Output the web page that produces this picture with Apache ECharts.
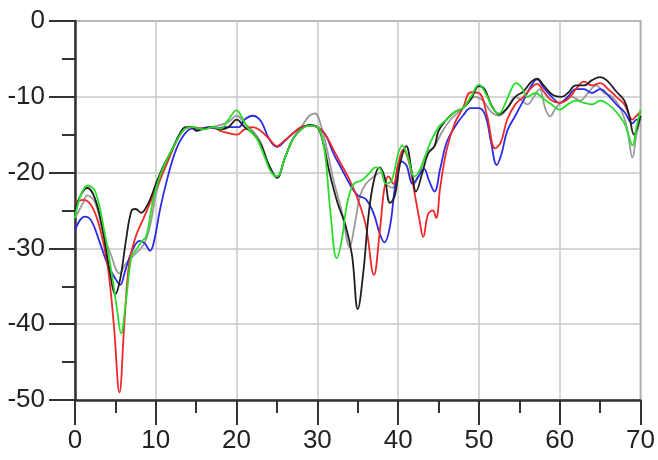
<!doctype html>
<html>
 <head>
  <meta charset="UTF-8">
  <script src="https://cdn.jsdelivr.net/npm/echarts@6/dist/echarts.min.js"></script>
  <title>chart</title>
  <style>html,body{margin:0;padding:0;background:#fff}</style>
 </head>
 <script type="text/javascript">
    // x ticks / y ticks
    var xTicks = [0, 10, 20, 30, 40, 50, 60, 70];
    var yTicks = [-50, -40, -30, -20, -10, 0];

    // curves, [x, dB]
    var grayData = [[0,-26],[1,-24],[1.5,-23],[2.5,-24],[3.5,-28],[4.5,-31],[5.5,-33.3],[6.3,-32],[7.3,-30.9],[8.5,-29.5],[9.3,-27],[10,-23],[11,-19.5],[12,-17],[13,-15],[14,-14],[15,-14.3],[17,-14],[19,-13.3],[20,-12.5],[21,-13.5],[22,-14.5],[23,-16],[24,-19],[25,-20.5],[26,-18],[27,-15.5],[28,-14],[29,-12.5],[29.7,-12.2],[30.5,-14],[31.2,-17],[32,-21],[33,-25],[34,-29.8],[34.6,-27],[35.3,-23],[36,-21.5],[37,-20.5],[37.8,-20],[38.5,-21.5],[39.3,-22],[40,-19],[40.7,-17],[41.4,-18.5],[42,-21.5],[42.7,-20],[43.5,-17.5],[44.5,-16.5],[45.5,-14.5],[46.5,-13],[47.5,-12],[48.5,-11],[49.5,-10],[50.5,-10.5],[51.5,-12],[52.5,-12.5],[53.5,-11.5],[54.5,-10],[55.3,-10.5],[56,-11],[56.8,-10],[57.5,-9],[58.2,-11.5],[58.8,-12.6],[59.5,-11.5],[60.5,-10.5],[61.5,-10],[62.5,-10.5],[63.5,-9.5],[64.5,-8.5],[65.5,-9.5],[66.5,-10],[67.5,-11.5],[68.3,-14],[69,-18],[69.5,-15],[70,-13]];
    var blueData = [[0,-27.6],[0.6,-26.3],[1.2,-25.8],[2,-26.3],[3,-29],[4,-32],[5,-34],[5.6,-34.8],[6.2,-33],[7,-30.5],[8,-29],[8.6,-29.3],[9.3,-30.3],[9.8,-29],[10.5,-25],[11.5,-20.5],[12.5,-17],[13.5,-15],[14.5,-14.2],[15.5,-14.2],[16.5,-14],[17.5,-14.2],[18.5,-14],[19.5,-14],[20.3,-14],[21,-13],[22,-12.5],[23,-13.2],[24,-15.5],[25,-16.6],[26,-15.8],[27,-14.8],[28,-14],[29,-13.8],[30,-14],[31,-15],[32,-17.5],[33,-19.5],[34,-21.5],[35,-23],[36,-23.5],[37,-25.5],[37.7,-28],[38.3,-29.2],[39,-27],[39.6,-22],[40.3,-18.5],[41,-19],[41.8,-21.5],[42.5,-20.5],[43.2,-19.5],[43.8,-21],[44.5,-22.5],[45.2,-19.5],[46,-16],[47,-14],[48,-12.5],[49,-11.5],[50,-11.5],[50.8,-12.5],[51.5,-16],[52.2,-19],[52.8,-17.5],[53.5,-14.5],[54.5,-12.5],[55.5,-10.5],[56.5,-8.5],[57.2,-7.7],[58,-8.8],[59,-10],[60,-10.8],[61,-10],[62,-9],[63,-9],[64,-9.5],[65,-9],[66,-9.8],[67,-11],[68,-12],[69,-13.5],[69.5,-13],[70,-13]];
    var redData = [[0,-24],[1,-23.6],[2,-24.3],[3,-27],[4,-32],[4.8,-40],[5.5,-49],[6.1,-40],[6.7,-32],[7.5,-28.5],[8.5,-26],[9.5,-23.5],[10.5,-21],[11.5,-18.5],[12.5,-16],[13.5,-14.3],[14.5,-14],[16,-14.2],[17,-14],[18,-14.5],[19,-14.8],[20,-15],[21,-14.3],[22,-14],[23,-14.5],[24,-15.5],[25,-16.5],[26,-15.7],[27,-14.8],[28,-14],[29,-13.8],[30,-14],[31,-15],[32,-17],[33,-19],[34,-21],[35,-23.5],[36,-27],[37,-33.5],[37.7,-28],[38.3,-22],[38.8,-20.5],[39.4,-21.5],[40,-19],[40.6,-17],[41.3,-18.5],[42,-22.5],[42.6,-26],[43.1,-28.5],[43.7,-25.5],[44.3,-25],[44.7,-26],[45.2,-22],[46,-17],[47,-13.5],[48,-11.5],[49,-9.4],[50,-9.5],[51,-12.5],[52,-16.8],[52.7,-16],[53.5,-13],[54.5,-11],[55.5,-10],[56.5,-8.8],[57.2,-8.3],[58,-9.3],[59,-10.5],[60,-10.8],[61,-10.3],[62,-9],[63,-8],[64,-8.5],[65,-8.2],[66,-9],[67,-10],[68,-11],[69,-13],[69.5,-12.5],[70,-12]];
    var blackData = [[0,-25],[0.7,-23],[1.5,-22],[2.5,-23.5],[3.5,-28],[4.3,-33],[5,-36],[5.6,-34],[6.3,-29],[7,-25],[7.5,-24.8],[8.2,-25.3],[8.8,-24.6],[9.5,-23],[10,-21.5],[11,-19],[12,-17],[13,-14.8],[13.7,-14],[14.5,-14],[15,-14.5],[16,-14.2],[17,-14],[18,-14.3],[19,-14],[20,-13],[21,-14],[22,-14.8],[23,-16.3],[24,-19],[25,-20.7],[26,-18],[27,-15.5],[28,-14.3],[29,-13.7],[30,-14],[30.7,-16],[31.5,-20],[32.5,-24],[33.5,-27],[34.3,-31],[35,-38],[35.7,-33],[36.3,-26],[37,-21],[37.7,-19.3],[38.3,-20.5],[39,-24],[39.6,-23],[40.2,-19],[41,-16.5],[41.7,-20],[42.2,-22.5],[43,-20],[43.7,-17.5],[44.5,-16.5],[45,-14.5],[46,-13],[47,-12],[48,-11.5],[49,-10.3],[50,-8.6],[50.7,-9],[51.5,-11],[52.5,-12.3],[53.5,-11.5],[54.5,-10],[55.5,-9.3],[56.5,-8],[57.2,-7.6],[58,-8.5],[59.2,-9.8],[60.2,-10],[61,-9.5],[62,-8.5],[63,-8.5],[64,-7.8],[65,-7.4],[65.8,-7.8],[67,-9.3],[68,-10.5],[68.6,-12.5],[69.2,-15],[69.6,-14],[70,-12.5]];
    var greenData = [[0,-26],[0.7,-23],[1.6,-21.7],[2.5,-22.5],[3.5,-27],[4.5,-33],[5.2,-38],[5.7,-41.2],[6.3,-37],[7,-31],[7.5,-30.3],[8.3,-29],[8.8,-28.5],[9.6,-24],[10.5,-20.5],[11.5,-18],[12.5,-16],[13.5,-14.3],[14.5,-14],[16,-14.3],[17,-14],[18,-14.2],[19,-13],[20,-11.8],[20.7,-12.8],[21.5,-14.3],[22.5,-15.5],[23.5,-18],[24.3,-20],[25,-20.5],[26,-18],[27,-15.5],[28,-14.3],[29,-13.8],[30,-14],[30.5,-15],[31,-18],[31.6,-25],[32.4,-31.3],[33,-29],[33.7,-24],[34.5,-21.5],[35.5,-21],[36.5,-20],[37.2,-19.3],[37.8,-19.5],[38.5,-21.5],[39.2,-21],[40,-17.5],[40.5,-16.4],[41.2,-18],[42,-20.5],[42.6,-19.8],[43.3,-18],[44,-16],[45,-14],[46,-13],[47,-12],[48,-11.5],[49,-10],[50,-8.4],[50.8,-9.5],[51.7,-11.5],[52.5,-12.2],[53.2,-11],[54,-9],[54.6,-8.2],[55.3,-8.8],[56,-10],[57,-9.5],[58,-10.3],[59,-11],[60,-11.7],[61,-11],[62,-10.5],[63,-10.8],[64,-11],[65,-10.5],[66,-11],[67,-12],[68,-13.5],[68.5,-15],[69,-16.4],[69.5,-14],[70,-11.7]];

    var loadData = function() {
        var myChart = echarts.init(document.getElementById('chart'));
        var font = {fontFamily: 'Liberation Sans', fontSize: 26, color: '#222'};
        var mk = function(name, data, color) {
            return {name: name, type: 'line', data: data, smooth: 0.4, showSymbol: false,
                    lineStyle: {color: color, width: 1.8}, itemStyle: {color: color}};
        };
        myChart.setOption({
            animation: false,
            grid: {left: 75, right: 17, top: 21, bottom: 60, show: true,
                   borderColor: '#666', borderWidth: 1.5},
            xAxis: {
                type: 'value', min: xTicks[0], max: xTicks[xTicks.length - 1], interval: 10,
                axisLine: {onZero: false, lineStyle: {color: '#333', width: 2.5}},
                axisTick: {length: 25, lineStyle: {color: '#333', width: 2}},
                minorTick: {show: true, splitNumber: 2, length: 13, lineStyle: {color: '#333', width: 2}},
                splitLine: {show: true, lineStyle: {color: '#c8c8c8', width: 1.5}},
                axisLabel: Object.assign({margin: 28}, font)
            },
            yAxis: {
                type: 'value', min: yTicks[0], max: yTicks[yTicks.length - 1], interval: 10,
                axisLine: {show: true, onZero: false, lineStyle: {color: '#333', width: 2.5}},
                axisTick: {show: true, length: 26, lineStyle: {color: '#333', width: 2}},
                minorTick: {show: true, splitNumber: 2, length: 13, lineStyle: {color: '#333', width: 2}},
                splitLine: {show: true, lineStyle: {color: '#c8c8c8', width: 1.5}},
                axisLabel: Object.assign({margin: 30}, font)
            },
            series: [
                mk('gray', grayData, '#9a9a9a'),
                mk('blue', blueData, '#2b2be6'),
                mk('red', redData, '#f02828'),
                mk('black', blackData, '#1e1e1e'),
                mk('green', greenData, '#2add2a')
            ]
        });
    }
 </script>
 <body onload="loadData()">
  <div id="chart" style="height: 460px; width: 658px; margin: 0"></div>
 </body>
</html>
